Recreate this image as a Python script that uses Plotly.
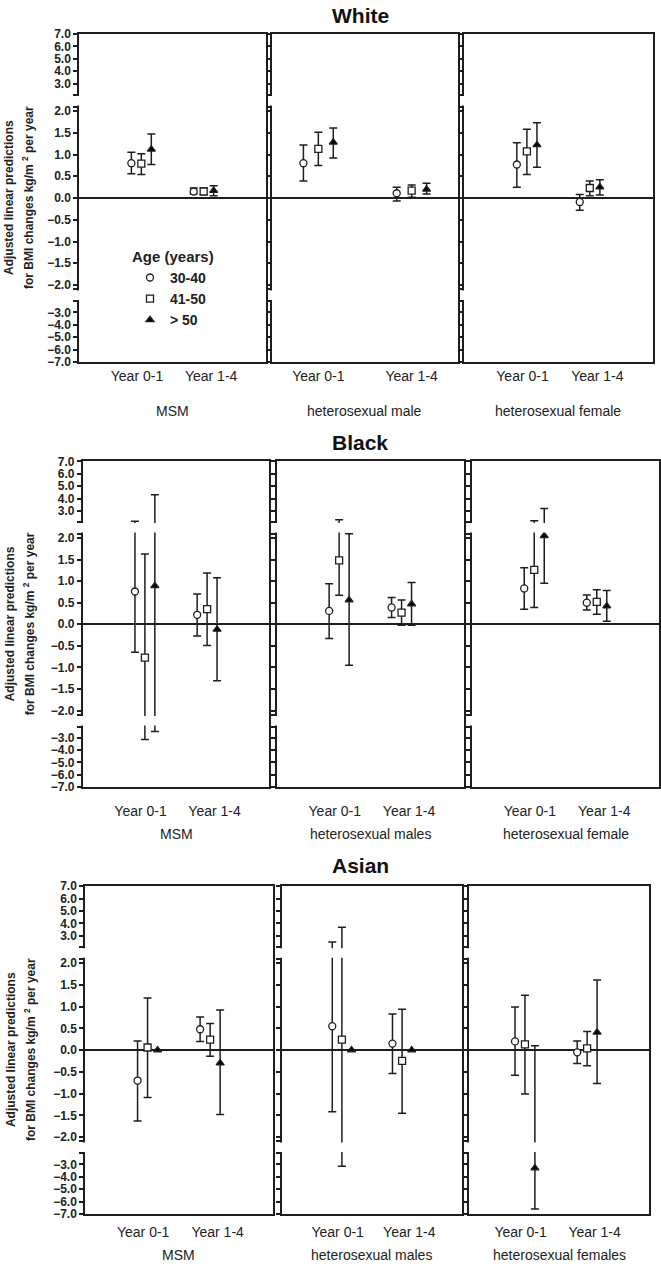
import plotly.graph_objects as go

W, H = 661, 1274

ages = ["30-40", "41-50", "> 50"]
periods = ["Year 0-1", "Year 1-4"]
races = ["White", "Black", "Asian"]
groups = [
    ["MSM", "heterosexual male", "heterosexual female"],
    ["MSM", "heterosexual males", "heterosexual female"],
    ["MSM", "heterosexual males", "heterosexual females"],
]

# [group][age] -> [Year 0-1, Year 1-4]
white_mid = [[[0.80, 0.15], [0.79, 0.15], [1.12, 0.17]],
             [[0.80, 0.11], [1.13, 0.17], [1.28, 0.20]],
             [[0.77, -0.09], [1.07, 0.23], [1.22, 0.25]]]
white_lo = [[[0.56, 0.09], [0.54, 0.08], [0.77, 0.05]],
            [[0.39, -0.07], [0.75, 0.02], [0.92, 0.09]],
            [[0.25, -0.28], [0.54, 0.05], [0.71, 0.07]]]
white_hi = [[[1.05, 0.23], [1.02, 0.23], [1.47, 0.28]],
            [[1.22, 0.25], [1.51, 0.30], [1.61, 0.34]],
            [[1.27, 0.08], [1.58, 0.39], [1.73, 0.42]]]

black_mid = [[[0.76, 0.22], [-0.77, 0.35], [0.89, -0.12]],
             [[0.31, 0.39], [1.48, 0.27], [0.56, 0.47]],
             [[0.83, 0.50], [1.26, 0.52], [2.05, 0.42]]]
black_lo = [[[-0.65, -0.27], [-3.15, -0.49], [-2.5, -1.31]],
            [[-0.33, 0.16], [0.67, -0.02], [-0.95, -0.02]],
            [[0.35, 0.33], [0.39, 0.23], [0.95, 0.07]]]
black_hi = [[[2.15, 0.70], [1.63, 1.19], [4.3, 1.08]],
            [[0.94, 0.62], [2.27, 0.56], [2.10, 0.97]],
            [[1.31, 0.68], [2.2, 0.80], [3.2, 0.78]]]

asian_mid = [[[-0.70, 0.48], [0.06, 0.24], [0.00, -0.30]],
             [[0.55, 0.15], [0.24, -0.25], [0.00, 0.00]],
             [[0.20, -0.05], [0.13, 0.04], [-3.3, 0.41]]]
asian_lo = [[[-1.63, 0.20], [-1.09, -0.14], [0.00, -1.48]],
            [[-1.42, -0.54], [-3.16, -1.45], [0.00, 0.00]],
            [[-0.58, -0.31], [-1.01, -0.36], [-6.6, -0.77]]]
asian_hi = [[[0.21, 0.76], [1.20, 0.61], [0.00, 0.92]],
            [[2.5, 0.83], [3.7, 0.94], [0.00, 0.00]],
            [[0.99, 0.21], [1.26, 0.43], [0.10, 1.61]]]

y_ticks_top = [7, 6, 5, 4, 3]
y_ticks_mid = [2.0, 1.5, 1.0, 0.5, 0.0, -0.5, -1.0, -1.5, -2.0]
y_ticks_bot = [-3, -4, -5, -6, -7]

mids = [white_mid, black_mid, asian_mid]
los = [white_lo, black_lo, asian_lo]
his = [white_hi, black_hi, asian_hi]


# broken y axis: |v|<=2.1 linear, beyond that compressed
def brk(v):
    if v > 2.1:
        return 2.37 + (v - 2.1) * 0.286
    if v < -2.1:
        return -2.37 + (v + 2.1) * 0.286
    return v


# panel geometry in pixels
row_top = [27, 459.3, 888.7]
row_bot = [359.3, 789, 1220.7]
col_px = [[(79, 266), (271.7, 458.3), (464, 652.7)],
          [(82.7, 269.3), (276.7, 464), (471.7, 659.3)],
          [(85, 272.7), (281.7, 462.3), (469, 649.3)]]
x_ranges = [[(0, 3), (0.5, 2.5), (0, 3)],
            [(0, 3), (0, 3), (0, 3)],
            [(0, 3), (0, 3), (0.1, 3.0)]]
title_y = [9, 440, 868]
group_y = [408, 836, 1262]
label_pad = [0, 10, 4]

symbols = ["circle", "square", "triangle-up"]
fills = ["white", "white", "black"]
offsets = [-0.16, 0, 0.16]
ink = "#1e1e1e"
font = "Liberation Sans"

tickvals = [brk(v) for v in y_ticks_top + y_ticks_mid + y_ticks_bot] + [2.1, 2.37, -2.1, -2.37]
ticktext = ["%.1f" % v for v in y_ticks_top + y_ticks_mid + y_ticks_bot]
ticktext = [t.replace("-", "\u2212") for t in ticktext] + ["", "", "", ""]
y_range = [brk(-7) - 0.005, brk(7) + 0.005]

fig = go.Figure()
shapes = []
annotations = []
layout = {}

for r in range(3):
    for c in range(3):
        k = r * 3 + c + 1
        xn = "x" if k == 1 else f"x{k}"
        yn = "y" if k == 1 else f"y{k}"
        x0, x1 = col_px[r][c]
        rng = x_ranges[r][c]
        tv = [1, 2] if rng == (0.5, 2.5) else [0.93, 2.12]

        for a in range(3):
            mid = mids[r][c][a]
            lo = los[r][c][a]
            hi = his[r][c][a]
            fig.add_trace(go.Scatter(
                x=[p + 1 + offsets[a] for p in range(2)],
                y=[brk(m) for m in mid],
                mode="markers",
                name=ages[a],
                legendgroup=ages[a],
                showlegend=(k == 1),
                marker=dict(symbol=symbols[a], size=7, color=fills[a],
                            line=dict(color=ink, width=1.3)),
                error_y=dict(type="data", symmetric=False,
                             array=[brk(h) - brk(m) for h, m in zip(hi, mid)],
                             arrayminus=[brk(m) - brk(l) for l, m in zip(lo, mid)],
                             color=ink, thickness=1.5, width=4),
                xaxis=xn, yaxis=yn,
            ))

        layout["xaxis" if k == 1 else f"xaxis{k}"] = dict(
            domain=[x0 / W, x1 / W], range=list(rng), anchor=yn,
            showline=True, mirror=True, linecolor=ink, linewidth=1.5,
            ticks="", tickvals=tv, ticktext=periods, showgrid=False, zeroline=False,
            ticklabelstandoff=label_pad[r],
            tickfont=dict(family=font, size=14, color="#222"),
        )
        layout["yaxis" if k == 1 else f"yaxis{k}"] = dict(
            domain=[1 - row_bot[r] / H, 1 - row_top[r] / H], range=y_range, anchor=xn,
            showline=True, mirror=True, linecolor=ink, linewidth=1.5,
            ticks="outside", ticklen=4, tickwidth=1.5, tickcolor=ink,
            tickvals=tickvals, ticktext=ticktext, showticklabels=(c == 0),
            tickfont=dict(family=font, size=12, color="#222", weight="bold"),
            showgrid=False, zeroline=True, zerolinecolor=ink, zerolinewidth=1.5,
        )

        # white bands hide the axis and error bars in the two breaks
        for g0, g1 in [(2.125, 2.345), (-2.345, -2.125)]:
            shapes.append(dict(type="rect", xref=f"{xn} domain", yref=yn,
                               x0=-0.015, x1=0.99, y0=g0, y1=g1,
                               fillcolor="white", line_width=0, layer="above"))

        annotations.append(dict(
            text=groups[r][c], x=(x0 + x1) / 2 / W, y=1 - group_y[r] / H,
            xref="paper", yref="paper", showarrow=False, xanchor="center", yanchor="middle",
            font=dict(family=font, size=14, color="#222"),
        ))

    annotations.append(dict(
        text=races[r], x=360 / W, y=1 - title_y[r] / H, xref="paper", yref="paper",
        showarrow=False, xanchor="center", yanchor="middle",
        font=dict(family=font, size=21, color="#111", weight="bold"),
    ))
    yc = (row_top[r] + row_bot[r]) / 2
    for line, xp in [("Adjusted linear predictions", 9 + r),
                     ("for BMI changes kg/m <sup>2</sup> per year", 28 + r)]:
        annotations.append(dict(
            text=line, x=xp / W, y=1 - yc / H, xref="paper", yref="paper",
            showarrow=False, textangle=-90, xanchor="center", yanchor="middle",
            font=dict(family=font, size=12, color="#222", weight="bold"),
        ))

fig.update_layout(
    width=W, height=H,
    margin=dict(l=0, r=0, t=0, b=0),
    plot_bgcolor="white", paper_bgcolor="white",
    shapes=shapes, annotations=annotations,
    legend=dict(
        x=130 / W, y=1 - 238 / H, xanchor="left", yanchor="top",
        title=dict(text="Age (years)", font=dict(family=font, size=15, color="#222", weight="bold")),
        font=dict(family=font, size=14, color="#222", weight="bold"),
        bgcolor="rgba(0,0,0,0)", tracegroupgap=0, itemwidth=30,
    ),
    **layout,
)

fig.write_html("out.html", config={"displayModeBar": False},
               post_script="document.body.style.margin='0';document.body.style.overflow='hidden';")
